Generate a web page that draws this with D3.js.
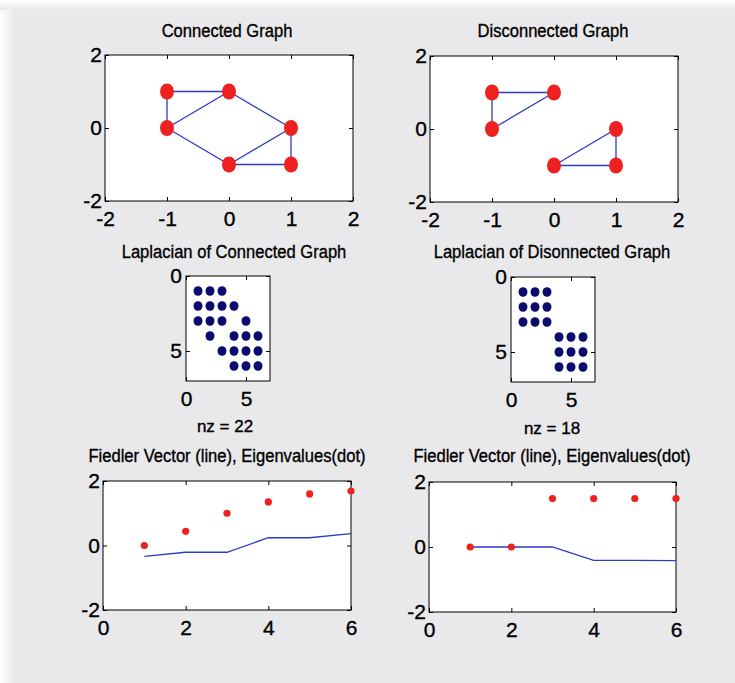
<!DOCTYPE html>
<html>
<head>
<meta charset="utf-8">
<script src="https://d3js.org/d3.v7.min.js"></script>
<style>
  body { margin: 0; background: #e9e9eb; }
  svg { display: block; font-family: "Liberation Sans", Arial, sans-serif; }
  .lbl { stroke: #000; stroke-width: 0.35px; }
</style>
</head>
<body>
<svg id="fig" width="735" height="683"></svg>
<script>
// graph node coordinates (same layout for both graphs)
var nodeX = [-1, -1, 0, 0, 1, 1];
var nodeY = [1, 0, 1, -1, 0, -1];

// edges as pairs of node indices
var edgesConnected = [[0,1],[0,2],[1,2],[1,3],[2,4],[3,4],[3,5],[4,5]];
var edgesDisconnected = [[0,1],[0,2],[1,2],[3,4],[3,5],[4,5]];

// eigenvalues (dots) and Fiedler vector (line)
var idx = [1, 2, 3, 4, 5, 6];
var eigConnected = [0, 0.44, 1.0, 1.35, 1.6, 1.69];
var fiedlerConnected = [-0.34, -0.21, -0.21, 0.24, 0.24, 0.37];
var eigDisconnected = [0, 0, 1.49, 1.49, 1.49, 1.49];
var fiedlerDisconnected = [0, 0, 0, -0.41, -0.41, -0.42];

// tick labels
var graphXTicks = [-2, -1, 0, 1, 2];
var graphYTicks = [-2, 0, 2];
var spyTicks = [0, 5];
var fiedlerXTicks = [0, 2, 4, 6];
var fiedlerYTicks = [-2, 0, 2];

var svg = d3.select("#fig");

// soft white scan edges
var defs = svg.append("defs");
var gl = defs.append("linearGradient").attr("id","edgeL");
gl.append("stop").attr("offset","0").attr("stop-color","#ffffff");
gl.append("stop").attr("offset","1").attr("stop-color","#e9e9eb");
var gt = defs.append("linearGradient").attr("id","edgeT").attr("x1",0).attr("y1",0).attr("x2",0).attr("y2",1);
gt.append("stop").attr("offset","0").attr("stop-color","#ffffff");
gt.append("stop").attr("offset","1").attr("stop-color","#e9e9eb");
svg.append("rect").attr("width",735).attr("height",683).attr("fill","#e9e9eb");
svg.append("rect").attr("x",0).attr("y",0).attr("width",14).attr("height",683).attr("fill","url(#edgeL)");
svg.append("rect").attr("x",0).attr("y",0).attr("width",735).attr("height",10).attr("fill","url(#edgeT)");

var RED = "#ee2020", BLUE = "#2a3bc4", NAVY = "#0b0b6e";
var TICKFONT = 21, TITLEFONT = 18, NZFONT = 17;

function fmt(d){ return String(d); }

// draws frame + axes, returns scales
function makeAxes(box, xDom, yDom, xTicks, yTicks, yReversed){
  var x = d3.scaleLinear().domain(xDom).range([box.x0, box.x1]);
  var y = d3.scaleLinear().domain(yDom).range(yReversed ? [box.y0, box.y1] : [box.y1, box.y0]);
  var g = svg.append("g");
  g.append("rect")
    .attr("x", box.x0).attr("y", box.y0)
    .attr("width", box.x1 - box.x0).attr("height", box.y1 - box.y0)
    .attr("fill", "#fff");

  var bottom = g.append("g").attr("transform","translate(0," + box.y1 + ")")
    .call(d3.axisBottom(x).tickValues(xTicks).tickFormat(fmt).tickSizeInner(-4).tickSizeOuter(0).tickPadding(10));
  var left = g.append("g").attr("transform","translate(" + box.x0 + ",0)")
    .call(d3.axisLeft(y).tickValues(yTicks).tickFormat(fmt).tickSizeInner(-4).tickSizeOuter(0).tickPadding(box.ypad || 3));
  var top = g.append("g").attr("transform","translate(0," + box.y0 + ")")
    .call(d3.axisTop(x).tickValues(xTicks).tickFormat("").tickSizeInner(-4).tickSizeOuter(0));
  var right = g.append("g").attr("transform","translate(" + box.x1 + ",0)")
    .call(d3.axisRight(y).tickValues(yTicks).tickFormat("").tickSizeInner(-4).tickSizeOuter(0));
  [bottom, left, top, right].forEach(function(a){
    a.select(".domain").remove();
    a.selectAll("line").attr("stroke","#000");
    a.selectAll("text").attr("fill","#000").attr("class","lbl")
      .style("font-size", TICKFONT + "px")
      .style("font-family", "Liberation Sans, Arial, sans-serif");
  });
  g.append("rect")
    .attr("x", box.x0).attr("y", box.y0)
    .attr("width", box.x1 - box.x0).attr("height", box.y1 - box.y0)
    .attr("fill", "none").attr("stroke", "#000").attr("stroke-width", 1);
  return {x: x, y: y, g: g};
}

// titles look a bit condensed in the original, so squeeze them horizontally
function title(txt, cx, by){
  var t = svg.append("text").attr("x", cx).attr("y", by).attr("class","lbl")
    .attr("text-anchor","middle").style("font-size", TITLEFONT + "px")
    .attr("fill","#000").text(txt);
  var w = t.node().getComputedTextLength();
  t.attr("textLength", w * 0.92).attr("lengthAdjust", "spacingAndGlyphs");
}

function drawGraph(box, edges, name, cx){
  var s = makeAxes(box, [-2, 2], [-2, 2], graphXTicks, graphYTicks, false);
  s.g.append("g").selectAll("line").data(edges).enter().append("line")
    .attr("x1", function(e){ return s.x(nodeX[e[0]]); })
    .attr("y1", function(e){ return s.y(nodeY[e[0]]); })
    .attr("x2", function(e){ return s.x(nodeX[e[1]]); })
    .attr("y2", function(e){ return s.y(nodeY[e[1]]); })
    .attr("stroke", BLUE).attr("stroke-width", 1.3);
  s.g.append("g").selectAll("ellipse").data(d3.range(nodeX.length)).enter().append("ellipse")
    .attr("cx", function(i){ return s.x(nodeX[i]); })
    .attr("cy", function(i){ return s.y(nodeY[i]); })
    .attr("rx", 7).attr("ry", 8).attr("fill", RED);
  title(name, cx, 37);
}

function drawSpy(box, edges, name, cx, nzx, nzy){
  var s = makeAxes(box, [0, 7], [0, 7], spyTicks, spyTicks, true);
  // nonzeros of the Laplacian: diagonal + both directions of every edge
  var nz = d3.range(nodeX.length).map(function(i){ return [i, i]; });
  edges.forEach(function(e){ nz.push([e[0], e[1]]); nz.push([e[1], e[0]]); });
  s.g.append("g").selectAll("ellipse").data(nz).enter().append("ellipse")
    .attr("cx", function(d){ return s.x(d[1] + 1); })
    .attr("cy", function(d){ return s.y(d[0] + 1); })
    .attr("rx", 4.5).attr("ry", 4.8).attr("fill", NAVY);
  title(name, cx, 258);
  svg.append("text").attr("x", nzx).attr("y", nzy).attr("class","lbl")
    .attr("text-anchor","middle").style("font-size", NZFONT + "px")
    .text("nz = " + nz.length);
}

function drawFiedler(box, eig, fied, cx){
  var s = makeAxes(box, [0, 6], [-2, 2], fiedlerXTicks, fiedlerYTicks, false);
  var line = d3.line().x(function(d, i){ return s.x(idx[i]); }).y(function(d){ return s.y(d); });
  s.g.append("path").datum(fied).attr("d", line)
    .attr("fill","none").attr("stroke", BLUE).attr("stroke-width", 1.3);
  s.g.append("g").selectAll("circle").data(eig).enter().append("circle")
    .attr("cx", function(d, i){ return s.x(idx[i]); })
    .attr("cy", function(d){ return s.y(d); })
    .attr("r", 3.6).attr("fill", RED);
  title("Fiedler Vector (line), Eigenvalues(dot)", cx, 462);
}

drawGraph({x0:105, x1:353, y0:55, y1:201}, edgesConnected, "Connected Graph", 227);
drawGraph({x0:430, x1:678, y0:56, y1:202}, edgesDisconnected, "Disconnected Graph", 553);

drawSpy({x0:186, x1:270, y0:276, y1:381, ypad:4}, edgesConnected, "Laplacian of Connected Graph", 234, 225, 432);
drawSpy({x0:511, x1:595, y0:277, y1:382, ypad:4}, edgesDisconnected, "Laplacian of Disonnected Graph", 552, 552, 434);

drawFiedler({x0:103, x1:351, y0:481, y1:610}, eigConnected, fiedlerConnected, 227);
drawFiedler({x0:429, x1:676, y0:482, y1:612}, eigDisconnected, fiedlerDisconnected, 552);
</script>
</body>
</html>
